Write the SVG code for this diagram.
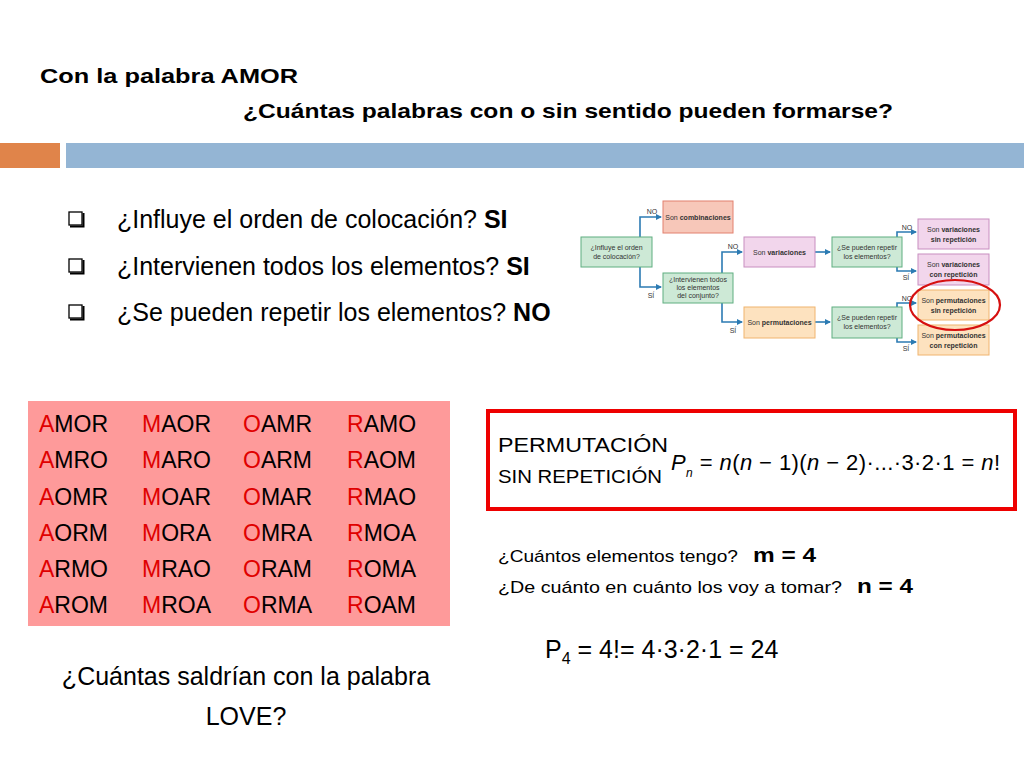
<svg xmlns="http://www.w3.org/2000/svg" width="1024" height="768" viewBox="0 0 1024 768">
<defs>
<style>
.t{font-family:"Liberation Sans",Arial,sans-serif;fill:#000}
.b{font-weight:bold}
.fc{font-family:"Liberation Sans",Arial,sans-serif;font-size:7px;fill:#333;text-anchor:middle}
.g{fill:#cde9d6;stroke:#5fae80;stroke-width:1}
.pk{fill:#f7c7b9;stroke:#e2806e;stroke-width:1}
.vi{fill:#f2d6ec;stroke:#c88ec0;stroke-width:1}
.or{fill:#fde2bf;stroke:#f0b46e;stroke-width:1}
.cn{fill:none;stroke:#2c7bb3;stroke-width:1.6}
.r{fill:#e00000}
</style>
<marker id="ah" markerWidth="6" markerHeight="6" refX="5" refY="3" orient="auto" markerUnits="userSpaceOnUse">
<path d="M0,0 L6,3 L0,6 z" fill="#2c7bb3"/>
</marker>
</defs>
<rect width="1024" height="768" fill="#ffffff"/>

<!-- header -->
<g id="title">
<text class="t b" x="40" y="83" font-size="21" textLength="258" lengthAdjust="spacingAndGlyphs">Con la palabra AMOR</text>
<text class="t b" x="243" y="118" font-size="21" textLength="650" lengthAdjust="spacingAndGlyphs">¿Cuántas palabras con o sin sentido pueden formarse?</text>
</g>
<g id="bars">
<rect x="0" y="143" width="60" height="25" fill="#e0844a"/>
<rect x="66" y="143" width="958" height="25" fill="#94b5d4"/>
</g>

<!-- bullets -->
<g id="bullets">
<g fill="none" stroke="#000">
<rect x="69" y="212" width="13" height="13" stroke-width="1.3"/>
<path d="M70,226.5 H83.5 V213" stroke-width="2"/>
<rect x="69" y="259" width="13" height="13" stroke-width="1.3"/>
<path d="M70,273.5 H83.5 V260" stroke-width="2"/>
<rect x="69" y="305" width="13" height="13" stroke-width="1.3"/>
<path d="M70,319.5 H83.5 V306" stroke-width="2"/>
</g>
<text class="t" x="117" y="228" font-size="25">¿Influye el orden de colocación? <tspan class="b">SI</tspan></text>
<text class="t" x="117" y="275" font-size="25">¿Intervienen todos los elementos? <tspan class="b">SI</tspan></text>
<text class="t" x="117" y="321" font-size="25">¿Se pueden repetir los elementos? <tspan class="b">NO</tspan></text>
</g>

<!-- flowchart -->
<g id="flow-connectors">
<path class="cn" d="M640,237 V217 H661" marker-end="url(#ah)"/>
<path class="cn" d="M640,267 V287 H661" marker-end="url(#ah)"/>
<path class="cn" d="M722,273 V252 H742" marker-end="url(#ah)"/>
<path class="cn" d="M722,303 V322 H742" marker-end="url(#ah)"/>
<path class="cn" d="M815,252 H830" marker-end="url(#ah)"/>
<path class="cn" d="M815,322 H830" marker-end="url(#ah)"/>
<path class="cn" d="M897,237 V232 H916" marker-end="url(#ah)"/>
<path class="cn" d="M897,267 V271 H916" marker-end="url(#ah)"/>
<path class="cn" d="M897,307 V303 H916" marker-end="url(#ah)"/>
<path class="cn" d="M897,338 V342 H916" marker-end="url(#ah)"/>
<text class="fc" x="652" y="214">NO</text>
<text class="fc" x="651" y="298">SÍ</text>
<text class="fc" x="733" y="249">NO</text>
<text class="fc" x="733" y="333">SÍ</text>
<text class="fc" x="907" y="230">NO</text>
<text class="fc" x="906" y="280">SÍ</text>
<text class="fc" x="907" y="301">NO</text>
<text class="fc" x="906" y="351">SÍ</text>
</g>
<g id="n-influye"><rect class="g" x="581" y="237" width="71" height="30"/>
<text class="fc" x="616.5" y="250">¿Influye el orden</text><text class="fc" x="616.5" y="259">de colocación?</text></g>
<g id="n-combinaciones"><rect class="pk" x="663" y="201" width="70" height="32"/>
<text class="fc" x="698" y="219.5">Son <tspan font-weight="bold">combinaciones</tspan></text></g>
<g id="n-intervienen"><rect class="g" x="663" y="273" width="70" height="30"/>
<text class="fc" x="698" y="282">¿Intervienen todos</text><text class="fc" x="698" y="290">los elementos</text><text class="fc" x="698" y="298">del conjunto?</text></g>
<g id="n-variaciones"><rect class="vi" x="744" y="237" width="71" height="30"/>
<text class="fc" x="779.5" y="254.5">Son <tspan font-weight="bold">variaciones</tspan></text></g>
<g id="n-permutaciones"><rect class="or" x="744" y="307" width="71" height="31"/>
<text class="fc" x="779.5" y="325">Son <tspan font-weight="bold">permutaciones</tspan></text></g>
<g id="n-repetir1"><rect class="g" x="832" y="237" width="70" height="30"/>
<text class="fc" x="867" y="250">¿Se pueden repetir</text><text class="fc" x="867" y="259">los elementos?</text></g>
<g id="n-repetir2"><rect class="g" x="832" y="307" width="70" height="31"/>
<text class="fc" x="867" y="320">¿Se pueden repetir</text><text class="fc" x="867" y="329">los elementos?</text></g>
<g id="n-var-sin"><rect class="vi" x="918" y="219" width="71" height="30"/>
<text class="fc" x="953.5" y="232">Son <tspan font-weight="bold">variaciones</tspan></text><text class="fc" x="953.5" y="242" font-weight="bold">sin repetición</text></g>
<g id="n-var-con"><rect class="vi" x="918" y="254" width="71" height="31"/>
<text class="fc" x="953.5" y="267">Son <tspan font-weight="bold">variaciones</tspan></text><text class="fc" x="953.5" y="277" font-weight="bold">con repetición</text></g>
<g id="n-perm-sin"><rect class="or" x="918" y="290" width="71" height="30"/>
<text class="fc" x="953.5" y="303">Son <tspan font-weight="bold">permutaciones</tspan></text><text class="fc" x="953.5" y="313" font-weight="bold">sin repetición</text></g>
<g id="n-perm-con"><rect class="or" x="918" y="325" width="71" height="30"/>
<text class="fc" x="953.5" y="338">Son <tspan font-weight="bold">permutaciones</tspan></text><text class="fc" x="953.5" y="348" font-weight="bold">con repetición</text></g>
<ellipse id="highlight" cx="955" cy="305" rx="45" ry="25" fill="none" stroke="#d61010" stroke-width="2.2"/>

<!-- permutation table -->
<g id="table">
<rect x="28" y="401" width="422" height="225" fill="#fe9a9a"/>
<g class="t" font-size="23">
<text x="39" y="432"><tspan class="r">A</tspan>MOR</text>
<text x="39" y="468"><tspan class="r">A</tspan>MRO</text>
<text x="39" y="505"><tspan class="r">A</tspan>OMR</text>
<text x="39" y="541"><tspan class="r">A</tspan>ORM</text>
<text x="39" y="577"><tspan class="r">A</tspan>RMO</text>
<text x="39" y="613"><tspan class="r">A</tspan>ROM</text>
<text x="142" y="432"><tspan class="r">M</tspan>AOR</text>
<text x="142" y="468"><tspan class="r">M</tspan>ARO</text>
<text x="142" y="505"><tspan class="r">M</tspan>OAR</text>
<text x="142" y="541"><tspan class="r">M</tspan>ORA</text>
<text x="142" y="577"><tspan class="r">M</tspan>RAO</text>
<text x="142" y="613"><tspan class="r">M</tspan>ROA</text>
<text x="243" y="432"><tspan class="r">O</tspan>AMR</text>
<text x="243" y="468"><tspan class="r">O</tspan>ARM</text>
<text x="243" y="505"><tspan class="r">O</tspan>MAR</text>
<text x="243" y="541"><tspan class="r">O</tspan>MRA</text>
<text x="243" y="577"><tspan class="r">O</tspan>RAM</text>
<text x="243" y="613"><tspan class="r">O</tspan>RMA</text>
<text x="347" y="432"><tspan class="r">R</tspan>AMO</text>
<text x="347" y="468"><tspan class="r">R</tspan>AOM</text>
<text x="347" y="505"><tspan class="r">R</tspan>MAO</text>
<text x="347" y="541"><tspan class="r">R</tspan>MOA</text>
<text x="347" y="577"><tspan class="r">R</tspan>OMA</text>
<text x="347" y="613"><tspan class="r">R</tspan>OAM</text>
</g>
</g>

<!-- formula box -->
<g id="formula">
<rect x="488" y="411" width="527" height="98" fill="#ffffff" stroke="#ee0000" stroke-width="4"/>
<text class="t" x="498" y="452" font-size="21" textLength="170" lengthAdjust="spacingAndGlyphs">PERMUTACIÓN</text>
<text class="t" x="498" y="483" font-size="19" textLength="164" lengthAdjust="spacingAndGlyphs">SIN REPETICIÓN</text>
<text class="t" x="671" y="470" font-size="22" fill="#222" textLength="329" lengthAdjust="spacing"><tspan font-style="italic">P</tspan><tspan font-style="italic" font-size="12" dy="7">n</tspan><tspan dy="-7"> = </tspan><tspan font-style="italic">n</tspan>(<tspan font-style="italic">n</tspan> − 1)(<tspan font-style="italic">n</tspan> − 2)·...·3·2·1 = <tspan font-style="italic">n</tspan>!</text>
</g>

<!-- questions -->
<g id="questions">
<text class="t" x="498" y="562" font-size="17" textLength="240" lengthAdjust="spacingAndGlyphs">¿Cuántos elementos tengo?</text>
<text class="t b" x="753" y="562" font-size="21" textLength="63" lengthAdjust="spacingAndGlyphs">m = 4</text>
<text class="t" x="498" y="593" font-size="17" textLength="344" lengthAdjust="spacingAndGlyphs">¿De cuánto en cuánto los voy a tomar?</text>
<text class="t b" x="857" y="593" font-size="21" textLength="56" lengthAdjust="spacingAndGlyphs">n = 4</text>
<text class="t" x="545" y="658" font-size="25">P<tspan font-size="16" dy="6">4</tspan><tspan dy="-6"> = 4!= 4·3·2·1 = 24</tspan></text>
</g>

<!-- bottom question -->
<g id="love">
<text class="t" x="246" y="685" font-size="25" text-anchor="middle">¿Cuántas saldrían con la palabra</text>
<text class="t" x="246" y="725" font-size="25" text-anchor="middle">LOVE?</text>
</g>
</svg>
